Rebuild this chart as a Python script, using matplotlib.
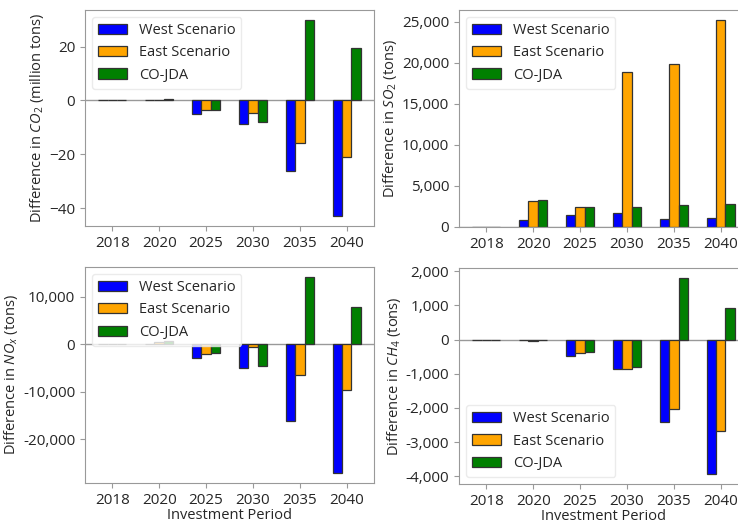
import matplotlib
matplotlib.use('Agg')
import matplotlib.pyplot as plt
import matplotlib.ticker as mticker
import numpy as np

plt.rcParams['font.family'] = ['Open Sans', 'DejaVu Sans']
plt.rcParams['font.size'] = 10
plt.rcParams['mathtext.fontset'] = 'custom'
plt.rcParams['mathtext.it'] = 'Open Sans:italic'
plt.rcParams['mathtext.rm'] = 'Open Sans'
plt.rcParams['text.color'] = '#262626'
plt.rcParams['axes.labelcolor'] = '#262626'
plt.rcParams['xtick.color'] = '#999999'
plt.rcParams['ytick.color'] = '#999999'
plt.rcParams['xtick.labelcolor'] = '#262626'
plt.rcParams['ytick.labelcolor'] = '#262626'
plt.rcParams['xtick.labelsize'] = 11
plt.rcParams['ytick.labelsize'] = 11
plt.rcParams['axes.labelsize'] = 10.5
plt.rcParams['axes.edgecolor'] = '#999999'

years = ['2018', '2020', '2025', '2030', '2035', '2040']
scenarios = ['West Scenario', 'East Scenario', 'CO-JDA']
colors = ['blue', 'orange', 'green']

# CO2 difference, million tons
co2_west = [0, 0.1, -5.1, -8.6, -26.3, -42.9]
co2_east = [0, 0.3, -3.6, -4.6, -15.7, -21.1]
co2_cojda = [0, 0.6, -3.5, -8.0, 29.9, 19.6]

# SO2 difference, tons
so2_west = [0, 850, 1490, 1700, 980, 1070]
so2_east = [0, 3190, 2420, 18840, 19820, 25180]
so2_cojda = [0, 3280, 2390, 2470, 2680, 2770]

# NOx difference, tons
nox_west = [0, 100, -2940, -4970, -16200, -27100]
nox_east = [0, 500, -1960, -630, -6370, -9600]
nox_cojda = [0, 800, -1820, -4550, 14220, 7920]

# CH4 difference, tons
ch4_west = [0, -10, -480, -860, -2410, -3940]
ch4_east = [0, -40, -380, -860, -2020, -2670]
ch4_cojda = [0, -20, -350, -800, 1810, 920]

panels = [
    ([co2_west, co2_east, co2_cojda], 'Difference in $CO_2$ (million tons)', 'upper left', False, False),
    ([so2_west, so2_east, so2_cojda], 'Difference in $SO_2$ (tons)', 'upper left', True, False),
    ([nox_west, nox_east, nox_cojda], 'Difference in $NO_x$ (tons)', 'upper left', True, True),
    ([ch4_west, ch4_east, ch4_cojda], 'Difference in $CH_4$ (tons)', 'lower left', True, True),
]

W, H = 738, 525
fig = plt.figure(figsize=(W / 100, H / 100), dpi=100)
# axes boxes in pixels: left, top, width, height
boxes = [(85, 10, 289, 216), (459, 10, 289, 217),
         (85, 267, 289, 216), (459, 268, 289, 216)]

x = np.arange(len(years))
bar_width = 0.2

for (series, ylabel, loc, commas, xlab), (l, t, w, h) in zip(panels, boxes):
    ax = fig.add_axes([l / W, 1 - (t + h) / H, w / W, h / H])
    ax.axhline(0, color='#999999', linewidth=1, zorder=1)
    for i, (vals, name, c) in enumerate(zip(series, scenarios, colors)):
        ax.bar(x + (i - 1) * bar_width, vals, bar_width, color=c, label=name,
               edgecolor='#333333', linewidth=0.9, zorder=2)
    ax.set_xticks(x)
    ax.set_xticklabels(years)
    ax.yaxis.set_major_locator(mticker.MaxNLocator(nbins=7, steps=[1, 2, 2.5, 5, 10]))
    ax.set_ylabel(ylabel, labelpad=2)
    if commas:
        ax.yaxis.set_major_formatter(mticker.FuncFormatter(lambda v, p: '{:,.0f}'.format(v)))
    if xlab:
        ax.set_xlabel('Investment Period', labelpad=0)
    ax.legend(loc=loc, edgecolor='#e6e6e6', fontsize=10.5)

fig.savefig('out.png', dpi=100)
